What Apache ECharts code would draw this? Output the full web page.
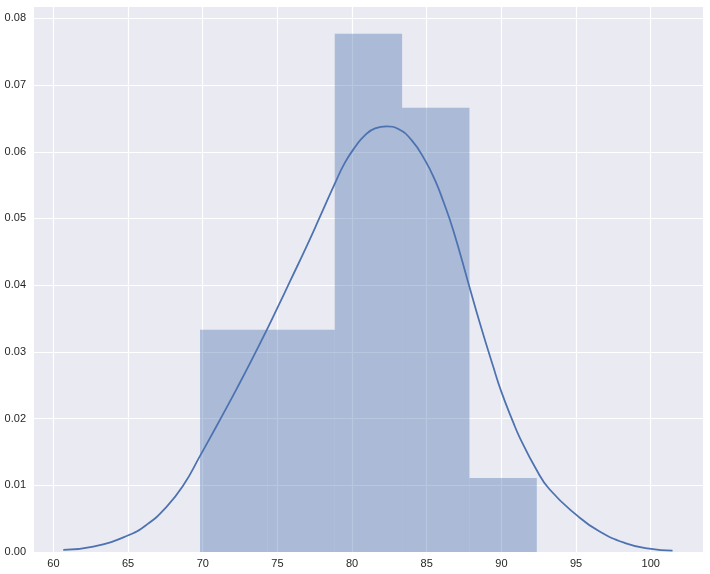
<!DOCTYPE html>
<html>
<head>
<meta charset="utf-8">
<script src="https://cdn.jsdelivr.net/npm/echarts@6/dist/echarts.min.js"></script>
<style>
  html, body { margin: 0; padding: 0; background: #fff; }
  #chart { width: 710px; height: 574px; }
</style>
</head>
<body>
<div id="chart"></div>
<script>
// histogram bins (edges + density heights)
const binEdges = [69.82, 74.33, 78.84, 83.35, 87.86, 92.37];
const binHeights = [0.0333, 0.0333, 0.0777, 0.0666, 0.0111];

// kde curve
const kdeX = [60.66, 62.67, 64.9, 66.25, 67.59, 68.7, 69.82, 70.49, 71.27, 72.28,
  73.28, 74.29, 75.0, 75.85, 76.97, 77.86, 78.86, 79.53, 80.2, 80.87,
  81.54, 82.32, 83.1, 84.0, 84.89, 85.56, 86.12, 86.78, 87.79, 88.56,
  89.45, 90.0, 90.78, 91.22, 92.33, 93.22, 95.0, 96.55, 98.34, 99.9, 101.46];
const kdeY = [0.0003, 0.0008, 0.0024, 0.0041, 0.0068, 0.0100, 0.0144, 0.0171, 0.0203, 0.0245,
  0.0288, 0.0333, 0.0366, 0.0406, 0.0459, 0.0503, 0.0553, 0.0584, 0.0607, 0.0625,
  0.0635, 0.0638, 0.0634, 0.0617, 0.0587, 0.0557, 0.0525, 0.0482, 0.0403, 0.0343,
  0.0278, 0.0240, 0.0195, 0.0172, 0.0124, 0.0094, 0.0056, 0.0031, 0.0013, 0.0005, 0.0002];

const chart = echarts.init(document.getElementById("chart"));

const histData = binHeights.map((h, i) => [binEdges[i], binEdges[i + 1], h]);
const kdeData = kdeX.map((x, i) => [x, kdeY[i]]);

const labelStyle = {
  color: "#262626",
  fontFamily: "Liberation Sans, Arial, sans-serif",
  fontSize: 11,
};

chart.setOption({
  animation: false,
  grid: {
    left: 34,
    right: 7,
    top: 7,
    bottom: 22,
    show: true,
    backgroundColor: "#EAEAF2",
    borderWidth: 0,
  },
  xAxis: {
    type: "value",
    min: 58.7,
    max: 103.5,
    splitNumber: 9, // gives a step of 5
    axisLine: { show: false },
    axisTick: { show: false },
    splitLine: { showMinLine: false, showMaxLine: false, lineStyle: { color: "#fff", width: 1.2 } },
    axisLabel: {
      ...labelStyle,
      margin: 6,
      showMinLabel: false,
      showMaxLabel: false,
      formatter: (v) => (Math.abs(v - Math.round(v / 5) * 5) < 1e-6 ? String(Math.round(v)) : ""),
    },
  },
  yAxis: {
    type: "value",
    min: 0,
    max: 0.0817,
    interval: 0.01,
    axisLine: { show: false },
    axisTick: { show: false },
    splitLine: { showMaxLine: false, lineStyle: { color: "#fff", width: 1.2 } },
    axisLabel: {
      ...labelStyle,
      margin: 8,
      showMaxLabel: false,
      formatter: (v) => v.toFixed(2),
    },
  },
  series: [
    {
      type: "custom",
      data: histData,
      renderItem: (params, api) => {
        const p0 = api.coord([api.value(0), api.value(2)]);
        const p1 = api.coord([api.value(1), 0]);
        return {
          type: "rect",
          shape: { x: p0[0], y: p0[1], width: p1[0] - p0[0], height: p1[1] - p0[1] },
          style: { fill: "rgba(76,114,176,0.4)" },
        };
      },
      z: 2,
    },
    {
      type: "line",
      data: kdeData,
      smooth: 0.5,
      showSymbol: false,
      lineStyle: { color: "#4C72B0", width: 1.75 },
      z: 3,
    },
  ],
});
</script>
</body>
</html>
